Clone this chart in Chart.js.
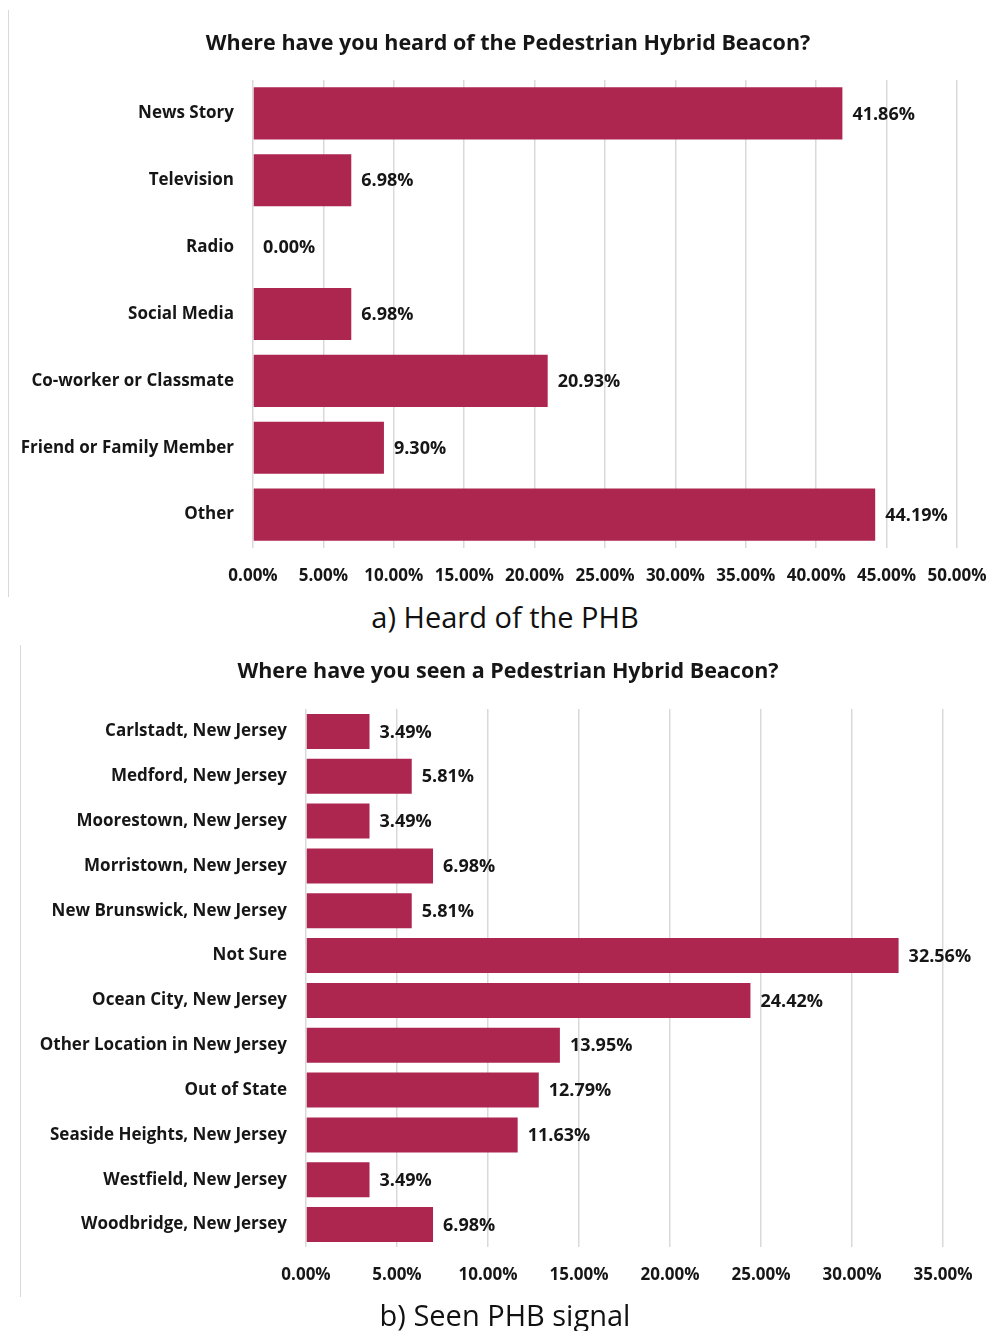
<!DOCTYPE html>
<html>
<head>
<meta charset="utf-8">
<script src="https://cdn.jsdelivr.net/npm/chart.js@4/dist/chart.umd.min.js"></script>
<style>
  html, body { margin: 0; padding: 0; background: #fff; }
  body { width: 989px; height: 1331px; position: relative; overflow: hidden; font-family: "Open Sans", sans-serif; }
  .box { position: absolute; }
  .edge { position: absolute; width: 1px; background: #d9d9d9; }
  .title { position: absolute; left: 0; width: 1016px; text-align: center; font-size: 21.5px; line-height: 26px; font-weight: bold; color: #161616; }
  .caption { position: absolute; left: 0; width: 1010px; text-align: center; font-size: 29px; color: #111; }
</style>
</head>
<body>
<div class="edge" style="left:8px; top:10px; height:587px"></div>
<div class="box" style="left:0; top:0; width:989px; height:597px"><canvas id="heard"></canvas></div>
<div class="title" id="heardTitle" style="top:29px"></div>
<div class="caption" style="top:597px">a) Heard of the PHB</div>

<div class="edge" style="left:20px; top:645px; height:652px"></div>
<div class="box" style="left:0; top:640px; width:989px; height:660px"><canvas id="seen"></canvas></div>
<div class="title" id="seenTitle" style="top:657px"></div>
<div class="caption" style="top:1295px">b) Seen PHB signal</div>

<script>
const heardTitle = 'Where have you heard of the Pedestrian Hybrid Beacon?';
const heardLabels = ['News Story', 'Television', 'Radio', 'Social Media', 'Co-worker or Classmate', 'Friend or Family Member', 'Other'];
const heardValues = [41.86, 6.98, 0.00, 6.98, 20.93, 9.30, 44.19];

const seenTitle = 'Where have you seen a Pedestrian Hybrid Beacon?';
const seenLabels = ['Carlstadt, New Jersey', 'Medford, New Jersey', 'Moorestown, New Jersey', 'Morristown, New Jersey',
  'New Brunswick, New Jersey', 'Not Sure', 'Ocean City, New Jersey', 'Other Location in New Jersey',
  'Out of State', 'Seaside Heights, New Jersey', 'Westfield, New Jersey', 'Woodbridge, New Jersey'];
const seenValues = [3.49, 5.81, 3.49, 6.98, 5.81, 32.56, 24.42, 13.95, 12.79, 11.63, 3.49, 6.98];

const BAR = '#ad2650';
const TEXT = '#161616';
const FONT = '"Open Sans", sans-serif';

document.getElementById('heardTitle').textContent = heardTitle;
document.getElementById('seenTitle').textContent = seenTitle;

// value labels to the right of each bar
const valueLabels = {
  id: 'valueLabels',
  afterDatasetsDraw(chart) {
    const ctx = chart.ctx;
    ctx.save();
    ctx.font = 'bold 18px ' + FONT;
    ctx.fillStyle = TEXT;
    ctx.textAlign = 'left';
    ctx.textBaseline = 'middle';
    const ds = chart.data.datasets[0];
    chart.getDatasetMeta(0).data.forEach((bar, i) => {
      ctx.fillText(ds.data[i].toFixed(2) + '%', bar.x + 10, bar.y + 1);
    });
    ctx.restore();
  }
};

function makeChart(id, labels, values, opt) {
  return new Chart(document.getElementById(id), {
    type: 'bar',
    data: {
      labels,
      datasets: [{
        data: values,
        backgroundColor: BAR,
        borderWidth: 0,
        categoryPercentage: 1,
        barPercentage: opt.barPct
      }]
    },
    options: {
      indexAxis: 'y',
      responsive: true,
      maintainAspectRatio: false,
      animation: false,
      layout: { padding: { left: 0, right: opt.padRight, top: opt.padTop, bottom: 0 } },
      plugins: {
        legend: { display: false },
        tooltip: { enabled: false },
        title: { display: false }
      },
      scales: {
        x: {
          min: 0,
          max: opt.max,
          ticks: {
            stepSize: 5,
            color: TEXT,
            font: { family: FONT, size: 17, weight: 'bold' },
            padding: 18,
            maxRotation: 0,
            autoSkip: false,
            callback: v => v.toFixed(2) + '%'
          },
          grid: { color: '#d9d9d9', lineWidth: 1.5, drawTicks: false },
          border: { display: false },
          afterFit(scale) { scale.height = opt.xHeight; scale.paddingLeft = 0; scale.paddingRight = 0; }
        },
        y: {
          ticks: {
            color: TEXT,
            font: { family: FONT, size: 17, weight: 'bold' },
            padding: 19
          },
          grid: { display: false, drawTicks: false },
          border: { display: false },
          afterFit(scale) { scale.width = opt.yWidth; }
        }
      }
    },
    plugins: [valueLabels]
  });
}

makeChart('heard', heardLabels, heardValues,
  { max: 50, barPct: 0.78, padRight: 32, padTop: 80, yWidth: 253, xHeight: 49 });
makeChart('seen', seenLabels, seenValues,
  { max: 35, barPct: 0.78, padRight: 46, padTop: 69, yWidth: 306, xHeight: 53 });
</script>
</body>
</html>
